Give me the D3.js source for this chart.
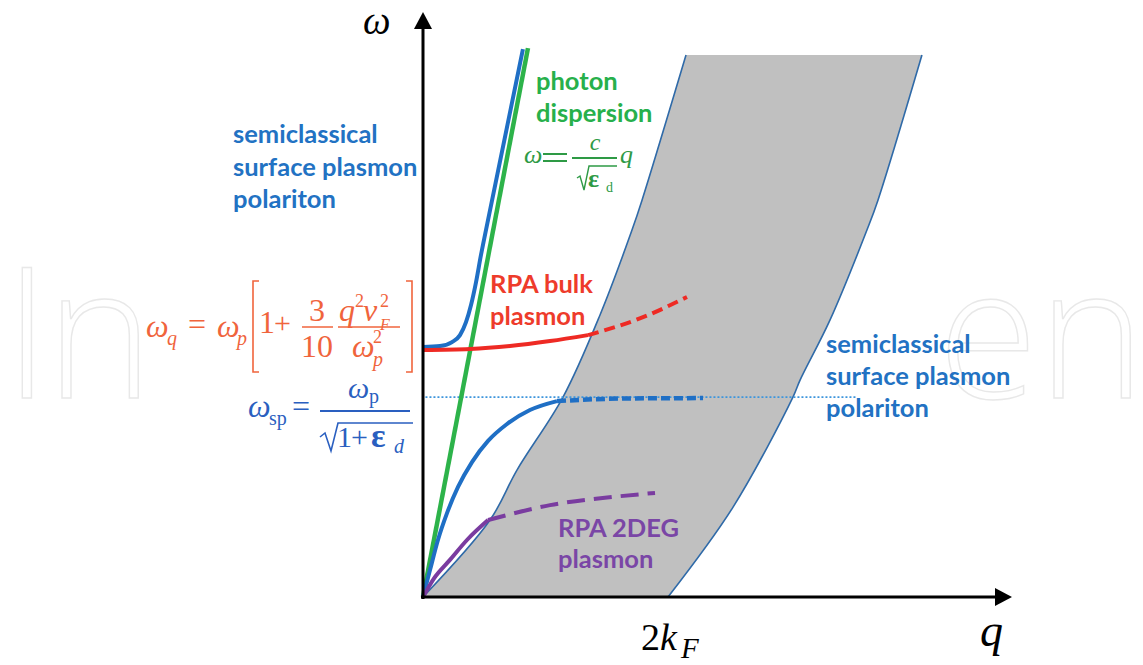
<!DOCTYPE html>
<html><head><meta charset="utf-8">
<script src="https://cdn.jsdelivr.net/npm/d3@7"></script>
<style>
html,body{margin:0;padding:0;background:#fff;}
svg{display:block;}
.lbl{font-family:Lato,'Open Sans',sans-serif;font-weight:700;font-size:25.5px;}
.m{font-family:'Liberation Serif','DejaVu Serif',serif;}
.wm{font-family:'Open Sans',sans-serif;font-weight:300;font-size:182px;fill:none;stroke:#e8e8e8;stroke-width:1.4;}
</style></head><body>
<svg id="c" width="1143" height="665"></svg>
<script>
// ---- data (q in units of k_F, omega in units of omega_p) ----
const qDomain = [0, 4.8];
const wDomain = [0, 2.35];
const xTickValues = [2];
const xTickLabel = ["2", "k", "F"];
const continuumUpper = [[0,0],[0.547,0.309],[0.767,0.51],[1.143,0.803],[1.445,1.133],[1.706,1.474],[1.788,1.594],[2.147,2.177]];
const continuumLower = [[2.0,0],[2.531,0.361],[3.02,0.803],[3.078,0.871],[3.322,1.112],[3.624,1.474],[3.714,1.594],[4.073,2.177]];
const photonLine = [[0,0],[0.857,2.205]];
const bulkPolariton = [[0,1.004],[0.139,1.008],[0.237,1.024],[0.302,1.052],[0.351,1.104],[0.392,1.173],[0.433,1.265],[0.473,1.373],[0.514,1.474],[0.816,2.201]];
const bulkPlasmonSolid = [[0,0.992],[0.384,0.996],[0.71,1.008],[1.037,1.028],[1.347,1.052]];
const bulkPlasmonDashed = [[1.347,1.052],[1.796,1.124],[2.155,1.205]];
const surfaceSolid = [[0,0],[0.057,0.108],[0.122,0.229],[0.196,0.337],[0.286,0.442],[0.4,0.542],[0.531,0.627],[0.686,0.695],[0.873,0.751],[1.094,0.787]];
const surfaceDashed = [[1.094,0.787],[1.6,0.797],[2.286,0.799]];
const surfaceLevel = [[0.02,0.803],[3.54,0.803]];
const deg2Solid = [[0,0],[0.09,0.075],[0.22,0.149],[0.359,0.229],[0.531,0.309]];
const deg2Dashed = [[0.531,0.309],[1.037,0.369],[1.551,0.402],[1.894,0.418]];

const svg = d3.select('#c');
const x = d3.scaleLinear().domain(qDomain).range([423, 1011]);
const y = d3.scaleLinear().domain(wDomain).range([597, 12]);

// faint watermark
svg.append('text').attr('class','wm').attr('x',4).attr('y',398).text('I');
svg.append('text').attr('class','wm').attr('x',46).attr('y',398).text('n');
svg.append('text').attr('class','wm').attr('x',938).attr('y',398).text('en');

const lineM = d3.line().x(d=>x(d[0])).y(d=>y(d[1])).curve(d3.curveMonotoneX);
const lineC = d3.line().x(d=>x(d[0])).y(d=>y(d[1])).curve(d3.curveCatmullRom);

// continuum
const lowRev = continuumLower.slice().reverse();
const dFill = lineC(continuumUpper) + lineC(lowRev).replace(/^M/,'L') + 'Z';
svg.append('path').attr('d', dFill).attr('fill','#c0c0c0');
svg.append('path').attr('d', lineC(continuumUpper)).attr('fill','none').attr('stroke','#2f6aa8').attr('stroke-width',1.6);
svg.append('path').attr('d', lineC(continuumLower)).attr('fill','none').attr('stroke','#2f6aa8').attr('stroke-width',1.6);

// omega_sp level
svg.append('path').attr('d', lineM(surfaceLevel)).attr('fill','none').attr('stroke','#3d95dc').attr('stroke-width',1.6).attr('stroke-dasharray','2,2');

// curves
function draw(data, color, w, dash){
  const p = svg.append('path').attr('d', lineM(data)).attr('fill','none').attr('stroke',color).attr('stroke-width',w).attr('stroke-linecap','butt');
  if(dash) p.attr('stroke-dasharray',dash);
}
draw(bulkPolariton, '#1f6fc5', 4);
draw(photonLine, '#2db34a', 4.5);
draw(bulkPlasmonSolid, '#ee2a24', 4);
draw(bulkPlasmonDashed, '#ee2a24', 4, '11,6');
draw(surfaceSolid, '#1f6fc5', 4);
draw(surfaceDashed, '#1f6fc5', 4.5, '9,4');
draw(deg2Solid, '#7a3ca0', 4);
draw(deg2Dashed, '#7a3ca0', 4, '18,9');

// axes
const gx = svg.append('g').attr('transform','translate(0,'+y(0)+')')
  .call(d3.axisBottom(x).tickValues(xTickValues).tickSize(0).tickSizeOuter(0).tickFormat(()=>''));
gx.select('.domain').attr('stroke','#000').attr('stroke-width',3).attr('d','M'+(x(0)-2)+',0H'+(x(qDomain[1])-14));
const gy = svg.append('g').attr('transform','translate('+x(0)+',0)')
  .call(d3.axisLeft(y).tickValues([]).tickSize(0).tickSizeOuter(0));
gy.select('.domain').attr('stroke','#000').attr('stroke-width',3).attr('d','M0,'+(y(0)+2)+'V'+(y(wDomain[1])+14));
svg.append('path').attr('d',`M${x(qDomain[1])+1},${y(0)} L${x(qDomain[1])-16},${y(0)-9} L${x(qDomain[1])-16},${y(0)+9}Z`).attr('fill','#000');
svg.append('path').attr('d',`M${x(0)},${y(wDomain[1])} L${x(0)-9},${y(wDomain[1])+17} L${x(0)+9},${y(wDomain[1])+17}Z`).attr('fill','#000');

// axis labels
const m = svg.append('g').attr('class','m');
m.append('text').attr('x',363).attr('y',34).attr('font-size',39).attr('font-style','italic').text('ω');
m.append('text').attr('x',980).attr('y',646).attr('font-size',46).attr('font-style','italic').text('q');
const tx = x(xTickValues[0]);
m.append('text').attr('x',tx-27).attr('y',650).attr('font-size',38).text(xTickLabel[0]);
m.append('text').attr('x',tx-8).attr('y',650).attr('font-size',38).attr('font-style','italic').text(xTickLabel[1]);
m.append('text').attr('x',tx+13).attr('y',658).attr('font-size',29).attr('font-style','italic').text(xTickLabel[2]);

// labels
function lbl(x0, ys, lines, color){
  const t = svg.append('text').attr('class','lbl').attr('fill',color);
  lines.forEach((s,i)=>t.append('tspan').attr('x',x0).attr('y',ys[i]).text(s));
}
lbl(233,[143,176,208],['semiclassical','surface plasmon','polariton'],'#2272c3');
lbl(826,[353,385,417],['semiclassical','surface plasmon','polariton'],'#2272c3');
lbl(536,[90,122],['photon','dispersion'],'#27b04b');
lbl(490,[293,325],['RPA bulk','plasmon'],'#ee3b2b');
lbl(558,[537,568],['RPA 2DEG','plasmon'],'#7a46a6');

function T(g,xx,yy,s,fs,it,anchor,bold){const t=g.append('text').attr('x',xx).attr('y',yy).attr('font-size',fs).text(s); if(it) t.attr('font-style','italic'); if(anchor) t.attr('text-anchor',anchor); if(bold) t.attr('font-weight','bold'); return t;}

// red formula
const rc = '#f0643c';
const r = svg.append('g').attr('class','m').attr('fill',rc);
T(r,146,337,'ω',32,true); T(r,167,345,'q',20,true);
T(r,188,335,'=',32);
T(r,217,337,'ω',32,true); T(r,237,345,'p',20,true);
r.append('path').attr('d','M259,281H253V372H259M406,281H412V372H406').attr('fill','none').attr('stroke',rc).attr('stroke-width',1.6);
T(r,259,333,'1',32); T(r,274,333,'+',30);
T(r,317,321,'3',32,false,'middle'); r.append('path').attr('d','M302,327H333').attr('stroke',rc).attr('stroke-width',1.5);
T(r,317,357,'10',32,false,'middle');
T(r,339,321,'q',32,true); T(r,355,307,'2',18); T(r,363,321,'v',32,true); T(r,380,307,'2',18); T(r,380,330,'F',16,true);
r.append('path').attr('d','M338,327H400').attr('stroke',rc).attr('stroke-width',1.5);
T(r,352,357,'ω',32,true); T(r,373,343,'2',18); T(r,373,366,'p',20,true);

// blue formula
const bc = '#2a5fc0';
const b = svg.append('g').attr('class','m').attr('fill',bc);
T(b,248,417,'ω',32,true); T(b,269,425,'sp',20);
T(b,292,417,'=',32);
b.append('path').attr('d','M320,411H410').attr('stroke',bc).attr('stroke-width',2.2);
T(b,348,398,'ω',30,true); T(b,369,403,'p',20);
b.append('path').attr('d','M320,437L325,433L331,451L338,423H413').attr('fill','none').attr('stroke',bc).attr('stroke-width',1.6);
T(b,337,447,'1',30); T(b,351,447,'+',30); T(b,371,447,'ε',34,false,null,true); T(b,394,453,'d',20,true);

// green formula
const gc = '#2e9a45';
const gr = svg.append('g').attr('class','m').attr('fill',gc);
T(gr,524,163,'ω',26,true);
gr.append('path').attr('d','M543,154H567M543,161H567').attr('stroke',gc).attr('stroke-width',1.8);
gr.append('path').attr('d','M572,158H617').attr('stroke',gc).attr('stroke-width',2);
T(gr,595,150,'c',24,true,'middle');
gr.append('path').attr('d','M577,178L580,176L584,190L589,166H617').attr('fill','none').attr('stroke',gc).attr('stroke-width',1.4);
T(gr,588,187,'ε',26,false,null,true); T(gr,606,192,'d',14);
T(gr,620,163,'q',26,true);
</script>
</body></html>
